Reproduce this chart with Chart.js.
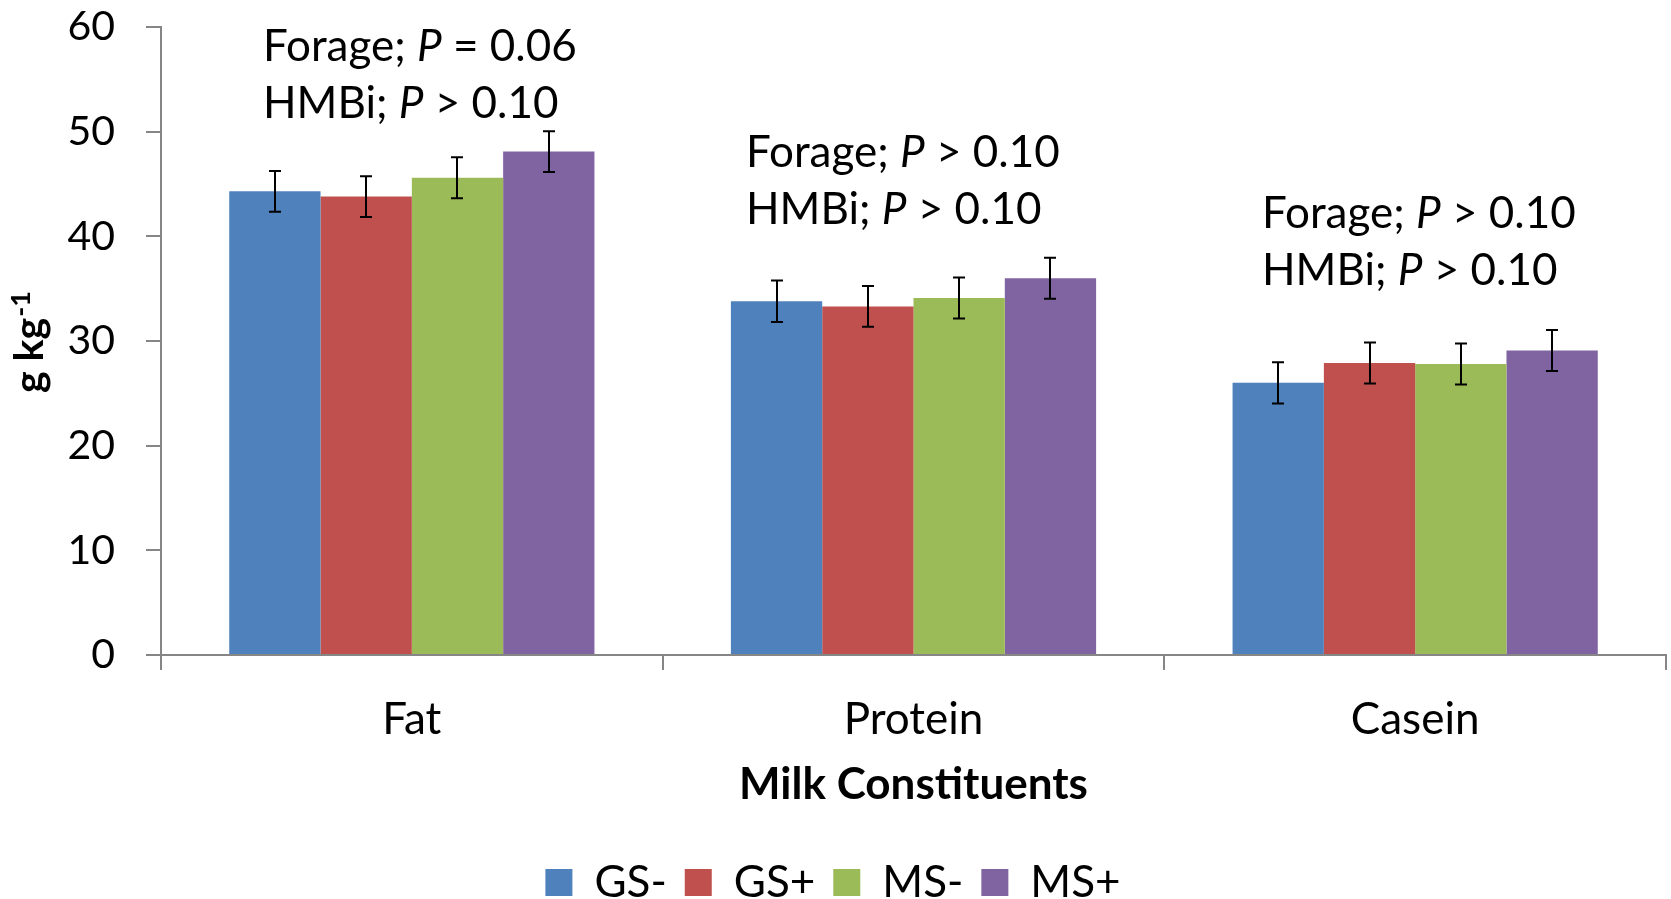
<!DOCTYPE html>
<html>
<head>
<meta charset="utf-8">
<title>Milk constituents</title>
<script src="https://cdn.jsdelivr.net/npm/chart.js@4.4.1/dist/chart.umd.min.js"></script>
<style>
  html, body { margin: 0; padding: 0; background: #fff; }
  canvas { display: block; }
</style>
</head>
<body>
<canvas id="milkChart" width="1671" height="899"></canvas>
<script>
// categories and treatments
const constituents = ['Fat', 'Protein', 'Casein'];
const treatments = ['GS-', 'GS+', 'MS-', 'MS+'];
const treatmentColors = ['#4F81BD', '#C0504D', '#9BBB59', '#8064A2'];

// means, g/kg
const gsMinus = [44.3, 33.8, 26.0];
const gsPlus = [43.8, 33.3, 27.9];
const msMinus = [45.6, 34.1, 27.8];
const msPlus = [48.1, 36.0, 29.1];

// standard errors
const gsMinusSe = [1.95, 1.98, 1.96];
const gsPlusSe = [1.95, 1.95, 1.96];
const msMinusSe = [1.95, 1.96, 1.95];
const msPlusSe = [1.95, 1.96, 1.96];

// y axis range
const yMin = 0;
const yMax = 60;
const yStep = 10;

// P values printed above each group
const forageP = ['= 0.06', '> 0.10', '> 0.10'];
const hmbiP = ['> 0.10', '> 0.10', '> 0.10'];

const FONT = 'Lato';
const TICK_FS = 41;
const TEXT_FS = 44;
const AXIS_GREY = '#868686';

// where each pair of P-value lines sits (left edge, first baseline)
const notePos = [
    { x: 263, y: 61 },
    { x: 746, y: 167 },
    { x: 1262, y: 227.5 }
];
const noteGap = 57;

const errorBars = {
    id: 'errorBars',
    afterDatasetsDraw(chart) {
        const ctx = chart.ctx;
        const y = chart.scales.y;
        ctx.save();
        ctx.strokeStyle = '#000';
        ctx.lineWidth = 2;
        chart.data.datasets.forEach((ds, i) => {
            chart.getDatasetMeta(i).data.forEach((bar, j) => {
                const v = ds.data[j];
                const e = ds.errors[j];
                const top = y.getPixelForValue(v + e);
                const bot = y.getPixelForValue(v - e);
                const x = Math.round(bar.x);
                ctx.beginPath();
                ctx.moveTo(x, top);
                ctx.lineTo(x, bot);
                ctx.moveTo(x - 6, top);
                ctx.lineTo(x + 6, top);
                ctx.moveTo(x - 6, bot);
                ctx.lineTo(x + 6, bot);
                ctx.stroke();
            });
        });
        ctx.restore();
    }
};

function drawRuns(ctx, x, y, runs) {
    runs.forEach(r => {
        ctx.font = (r.italic ? 'italic ' : '') + TEXT_FS + 'px ' + FONT;
        ctx.fillText(r.text, x, y);
        x += ctx.measureText(r.text).width;
    });
}

const extraText = {
    id: 'extraText',
    afterDraw(chart) {
        const ctx = chart.ctx;
        ctx.save();
        ctx.fillStyle = '#000';
        ctx.textAlign = 'left';
        ctx.textBaseline = 'alphabetic';

        constituents.forEach((c, i) => {
            const p = notePos[i];
            drawRuns(ctx, p.x, p.y, [
                { text: 'Forage; ' },
                { text: 'P', italic: true },
                { text: ' ' + forageP[i] }
            ]);
            drawRuns(ctx, p.x, p.y + noteGap, [
                { text: 'HMBi; ' },
                { text: 'P', italic: true },
                { text: ' ' + hmbiP[i] }
            ]);
        });

        // y axis title with superscript
        ctx.translate(42.7, 393);
        ctx.rotate(-Math.PI / 2);
        ctx.font = 'bold ' + TICK_FS + 'px ' + FONT;
        ctx.fillText('g kg', 0, 0);
        const w = ctx.measureText('g kg').width;
        ctx.font = 'bold 27px ' + FONT;
        ctx.fillText('-1', w + 1, -13);
        ctx.restore();
    }
};

function buildChart() {
    const series = [gsMinus, gsPlus, msMinus, msPlus];
    const errs = [gsMinusSe, gsPlusSe, msMinusSe, msPlusSe];

    new Chart(document.getElementById('milkChart'), {
        type: 'bar',
        data: {
            labels: constituents,
            datasets: treatments.map((t, i) => ({
                label: t,
                data: series[i],
                errors: errs[i],
                backgroundColor: treatmentColors[i],
                borderWidth: 0,
                categoryPercentage: 0.728,
                barPercentage: 1
            }))
        },
        options: {
            responsive: false,
            animation: false,
            layout: { padding: { left: 0, right: 5, top: 27, bottom: 0 } },
            plugins: {
                tooltip: { enabled: false },
                legend: {
                    position: 'bottom',
                    maxHeight: 56.5,
                    labels: {
                        boxWidth: 27,
                        boxHeight: 27,
                        padding: 18,
                        color: '#000',
                        font: { family: FONT, size: TEXT_FS }
                    }
                }
            },
            scales: {
                x: {
                    grid: {
                        offset: true,
                        drawOnChartArea: false,
                        tickLength: 15,
                        color: AXIS_GREY,
                        lineWidth: 2
                    },
                    border: { color: AXIS_GREY, width: 2 },
                    ticks: {
                        padding: 23,
                        color: '#000',
                        font: { family: FONT, size: TEXT_FS }
                    },
                    title: {
                        display: true,
                        text: 'Milk Constituents',
                        color: '#000',
                        font: { family: FONT, size: TEXT_FS, weight: 'bold' },
                        padding: { top: 0, bottom: 31.5 }
                    },
                    afterFit(s) {
                        const c = s.chart;
                        s.height = c.height - 655 - (c.legend ? c.legend.height : 0);
                    }
                },
                y: {
                    min: yMin,
                    max: yMax,
                    grid: {
                        drawOnChartArea: false,
                        tickLength: 15,
                        color: AXIS_GREY,
                        lineWidth: 2
                    },
                    border: { color: AXIS_GREY, width: 2 },
                    ticks: {
                        stepSize: yStep,
                        padding: 31,
                        color: '#000',
                        font: { family: FONT, size: TICK_FS }
                    },
                    afterFit(s) {
                        s.width = 161;
                        s.paddingTop = 0;
                        s.paddingBottom = 0;
                    }
                }
            }
        },
        plugins: [errorBars, extraText]
    });
}

Promise.all([
    document.fonts.load(TICK_FS + 'px ' + FONT),
    document.fonts.load('bold ' + TEXT_FS + 'px ' + FONT),
    document.fonts.load('italic ' + TEXT_FS + 'px ' + FONT)
]).then(buildChart, buildChart);
</script>
</body>
</html>
